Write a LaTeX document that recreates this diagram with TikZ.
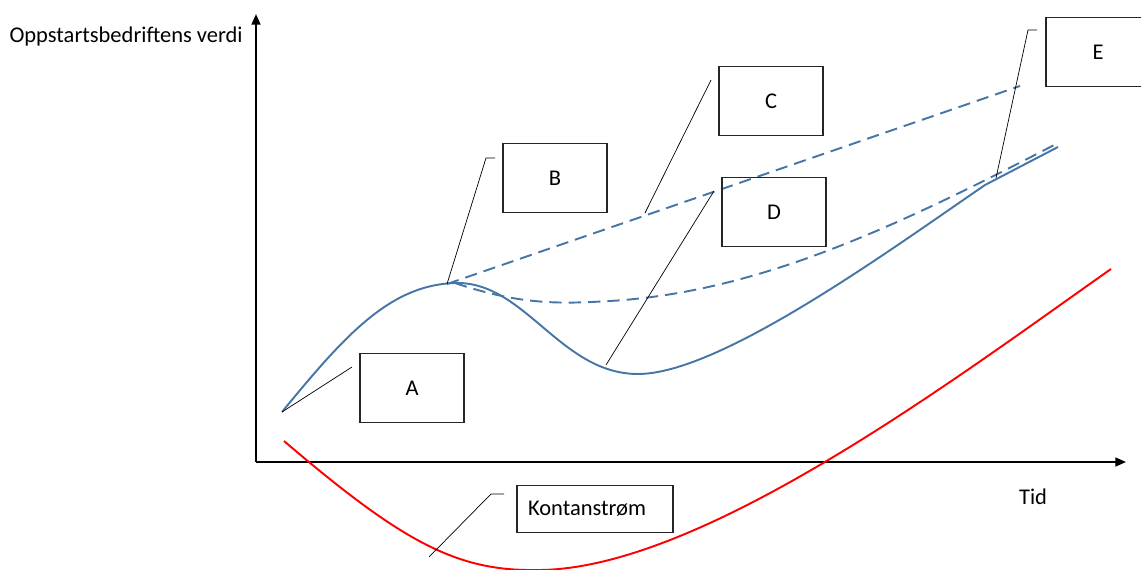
\documentclass[tikz,border=0pt]{standalone}
\usepackage{fontspec}
\setmainfont{Carlito}
\usepackage{xcolor}
\definecolor{textcolor}{RGB}{0,0,0}
\definecolor{valuecolor}{RGB}{70,118,166}
\definecolor{cashcolor}{RGB}{255,0,0}
\usepackage{tikz}
\usetikzlibrary{arrows.meta}

\begin{document}
\begin{tikzpicture}[x=0.02cm, y=-0.02cm, every node/.style={color=textcolor, font=\fontsize{12.8}{14}\selectfont},
    labelbox/.style={draw=black!85, line width=0.7pt, minimum width=2.08cm, minimum height=1.38cm, inner sep=0pt},
    callout/.style={black, line width=0.4pt},
    axisline/.style={black, line width=1.1pt, -{Triangle[length=6pt, width=5pt]}}]
  \useasboundingbox (0,0) rectangle (1141,570);

  \coordinate (origin) at (256,462);
  \coordinate (ytop) at (256,14);
  \coordinate (xend) at (1126,462);
  \draw[axisline] (origin) -- (ytop);
  \draw[axisline] (origin) -- (xend);
  \node[anchor=east, inner sep=0pt] (ylabel) at (243,37) {Oppstartsbedriftens verdi};
  \node (xlabel) at (1033,497) {Tid};

  \draw[cashcolor, line width=1.1pt] (284,441) .. controls (400,540) and (455,571) .. (535,570)
    .. controls (700,572) and (960,375) .. (1111,269);

  \draw[valuecolor, line width=1.1pt, dashed, dash pattern=on 7pt off 4pt] (447,284) -- (1020,86);
  \draw[valuecolor, line width=1.1pt, dashed, dash pattern=on 7pt off 4pt] (455,283) .. controls (520,305) and (560,304) .. (610,301)
    .. controls (760,292) and (900,225) .. (1058,143);
  \draw[valuecolor, line width=1.1pt] (282,412) .. controls (345,335) and (390,285) .. (455,283)
    .. controls (525,281) and (560,374) .. (638,374)
    .. controls (720,374) and (890,250) .. (985,185) -- (1058,147);

  \node[labelbox] (boxA) at (412,388) {A};
  \node[labelbox] (boxB) at (555,178) {B};
  \node[labelbox] (boxC) at (771,101) {C};
  \node[labelbox] (boxD) at (774,212) {D};
  \node[labelbox] (boxE) at (1098,52) {E};
  \node[labelbox, minimum width=3.12cm, minimum height=0.94cm, text width=2.68cm, inner xsep=0.22cm, align=left] (cashbox) at (595,509) {Kontanstrøm};

  \coordinate (ptA) at (282,412);
  \coordinate (tipA) at (352,367);
  \draw[callout] (ptA) -- (tipA);

  \coordinate (ptB) at (447,284);
  \coordinate (tipB) at (486,158);
  \coordinate (endB) at (495,158);
  \draw[callout] (ptB) -- (tipB) -- (endB);

  \coordinate (ptC) at (645,213);
  \coordinate (tipC) at (711,80);
  \draw[callout] (ptC) -- (tipC);

  \coordinate (ptD) at (606,365);
  \coordinate (tipD) at (714,191);
  \draw[callout] (ptD) -- (tipD);

  \coordinate (ptE) at (996,178);
  \coordinate (tipE) at (1028,30);
  \coordinate (endE) at (1037,30);
  \draw[callout] (ptE) -- (tipE) -- (endE);

  \coordinate (ptK) at (429,557);
  \coordinate (tipK) at (491,494);
  \coordinate (endK) at (504,494);
  \draw[callout] (ptK) -- (tipK) -- (endK);
\end{tikzpicture}
\end{document}
